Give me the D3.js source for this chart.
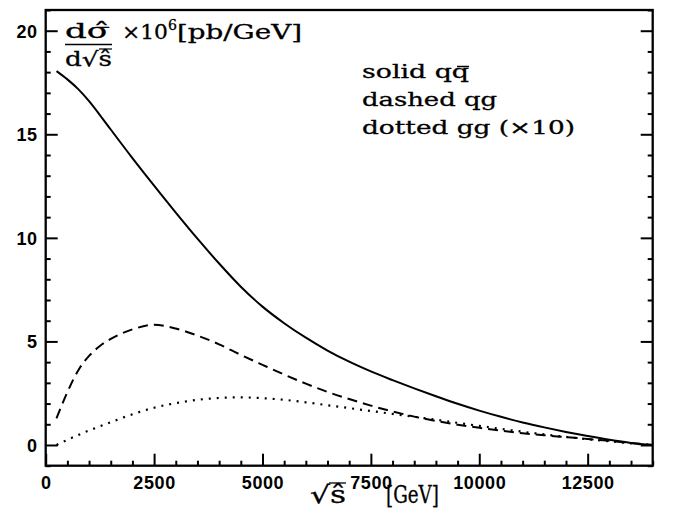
<!DOCTYPE html>
<html>
<head>
<meta charset="utf-8">
<script src="https://cdn.jsdelivr.net/npm/d3@7/dist/d3.min.js"></script>
<style>
  html, body { margin: 0; padding: 0; background: #fff; }
  svg { display: block; }
  .tick text { font-family: "Liberation Sans", Arial, sans-serif; font-weight: bold; font-size: 18px; letter-spacing: 0.6px; fill: #000; }
  .serif { font-family: "DejaVu Serif", "Liberation Serif", serif; fill: #000; stroke: #000; stroke-width: 0.3px; }
</style>
</head>
<body>
<svg id="chart" width="673" height="521"></svg>
<script>
// ---- data ----
const sqrtS = [250, 500, 750, 1000, 1250, 1500, 2000, 2500, 3000, 3500, 4000, 4500, 5000, 5500, 6000, 6500, 7000, 7500, 8000, 8500, 9000, 9500, 10000, 10500, 11000, 11500, 12000, 12500, 13000, 13500, 14000];
const qqbar = [18.05, 17.65, 17.18, 16.6, 15.93, 15.23, 13.85, 12.52, 11.22, 9.96, 8.76, 7.64, 6.68, 5.88, 5.18, 4.56, 4.02, 3.55, 3.13, 2.73, 2.35, 1.99, 1.66, 1.36, 1.09, 0.85, 0.63, 0.43, 0.25, 0.1, 0.0];
const qg    = [1.29, 2.55, 3.6, 4.3, 4.78, 5.12, 5.58, 5.8, 5.62, 5.28, 4.86, 4.35, 3.87, 3.4, 2.96, 2.56, 2.22, 1.9, 1.62, 1.37, 1.16, 0.98, 0.83, 0.69, 0.57, 0.47, 0.38, 0.29, 0.2, 0.1, 0.0];
const gg10  = [0.0, 0.25, 0.48, 0.7, 0.9, 1.1, 1.48, 1.8, 2.02, 2.18, 2.27, 2.3, 2.26, 2.18, 2.06, 1.92, 1.78, 1.64, 1.5, 1.36, 1.22, 1.07, 0.92, 0.78, 0.64, 0.51, 0.39, 0.28, 0.18, 0.08, 0.0];
const xMajor = [0, 2500, 5000, 7500, 10000, 12500];
const yMajor = [0, 5, 10, 15, 20];
const legendLines = ["solid qq", "dashed qg", "dotted gg (\u00d710)"];

// ---- layout ----
const svg = d3.select("#chart");
const L = 45.7, R = 652.7, T = 10, B = 465.7;
const x = d3.scaleLinear().domain([0, 14000]).range([L, R]);
const y = d3.scaleLinear().domain([-1, 21]).range([B, T]);

const xMinor = d3.range(0, 14001, 500).filter(v => v % 2500 !== 0);
const yMinor = d3.range(-1, 21.01, 1).filter(v => v % 5 !== 0);

function styleAxis(g) {
  g.select(".domain").remove();
  g.selectAll(".tick line").attr("stroke", "#000").attr("stroke-width", 2);
}

// bottom major
svg.append("g").attr("transform", `translate(0,${B})`)
  .call(d3.axisBottom(x).tickValues(xMajor).tickSize(-12).tickPadding(10.5).tickFormat(d3.format("d")))
  .call(styleAxis);
// bottom minor
svg.append("g").attr("transform", `translate(0,${B})`)
  .call(d3.axisBottom(x).tickValues(xMinor).tickSize(-5).tickFormat(""))
  .call(styleAxis);
// left major
svg.append("g").attr("transform", `translate(${L},0)`)
  .call(d3.axisLeft(y).tickValues(yMajor).tickSize(-12).tickPadding(8).tickFormat(d3.format("d")))
  .call(styleAxis)
  .selectAll("text").attr("dy", "0.36em");
// left minor
svg.append("g").attr("transform", `translate(${L},0)`)
  .call(d3.axisLeft(y).tickValues(yMinor).tickSize(-5).tickFormat(""))
  .call(styleAxis);
// right major / minor
svg.append("g").attr("transform", `translate(${R},0)`)
  .call(d3.axisRight(y).tickValues(yMajor).tickSize(-12).tickFormat(""))
  .call(styleAxis);
svg.append("g").attr("transform", `translate(${R},0)`)
  .call(d3.axisRight(y).tickValues(yMinor).tickSize(-5).tickFormat(""))
  .call(styleAxis);

// frame
svg.append("rect").attr("x", L).attr("y", T).attr("width", R - L).attr("height", B - T)
  .attr("fill", "none").attr("stroke", "#000").attr("stroke-width", 2.3);

// curves
const line = d3.line().x(d => x(d[0])).y(d => y(d[1])).curve(d3.curveMonotoneX);
function draw(vals, dash, width, cap) {
  svg.append("path")
    .datum(sqrtS.map((s, i) => [s, vals[i]]))
    .attr("d", line)
    .attr("fill", "none")
    .attr("stroke", "#000")
    .attr("stroke-width", width)
    .attr("stroke-dasharray", dash)
    .attr("stroke-linecap", cap);
}
draw(qqbar, null, 2, "butt");
draw(qg, "10,6", 2, "butt");
draw(gg10, "2,6", 2.2, "butt");

// ---- legend text ----
const legY = [78, 106, 134];
const legW = [107, 135, 213];
legendLines.forEach((t, i) => {
  svg.append("text").attr("class", "serif")
    .attr("x", 362).attr("y", legY[i]).attr("font-size", 18)
    .attr("textLength", legW[i]).attr("lengthAdjust", "spacingAndGlyphs")
    .text(t);
});
// bar over the second q (q-bar)
svg.append("line").attr("x1", 457).attr("x2", 469).attr("y1", 66.5).attr("y2", 66.5)
  .attr("stroke", "#000").attr("stroke-width", 1.5);

// ---- y-axis label (top left) ----
svg.append("text").attr("class", "serif").attr("x", 65).attr("y", 38).attr("font-size", 20)
  .attr("textLength", 45).attr("lengthAdjust", "spacingAndGlyphs").text("d\u03c3\u0302");
svg.append("line").attr("x1", 65).attr("x2", 112).attr("y1", 44.5).attr("y2", 44.5)
  .attr("stroke", "#000").attr("stroke-width", 1.4);
svg.append("text").attr("class", "serif").attr("x", 65).attr("y", 66).attr("font-size", 20)
  .attr("textLength", 47).attr("lengthAdjust", "spacingAndGlyphs").text("d\u221a\u015d");
svg.append("line").attr("x1", 99).attr("x2", 112).attr("y1", 49).attr("y2", 49)
  .attr("stroke", "#000").attr("stroke-width", 1.2);
svg.append("text").attr("class", "serif").attr("x", 122).attr("y", 39).attr("font-size", 20)
  .attr("textLength", 46).attr("lengthAdjust", "spacingAndGlyphs").text("\u00d710");
svg.append("text").attr("class", "serif").attr("x", 168).attr("y", 30).attr("font-size", 14)
  .attr("textLength", 9).attr("lengthAdjust", "spacingAndGlyphs").text("6");
svg.append("text").attr("class", "serif").attr("x", 177).attr("y", 39).attr("font-size", 20)
  .attr("textLength", 125).attr("lengthAdjust", "spacingAndGlyphs").text("[pb/GeV]");

// ---- x-axis title ----
svg.append("text").attr("class", "serif").attr("x", 310).attr("y", 503).attr("font-size", 24)
  .attr("textLength", 36).attr("lengthAdjust", "spacingAndGlyphs").text("\u221a\u015d");
svg.append("line").attr("x1", 329).attr("x2", 346).attr("y1", 483).attr("y2", 483)
  .attr("stroke", "#000").attr("stroke-width", 1.3);
svg.append("text").attr("class", "serif").attr("x", 386).attr("y", 503).attr("font-size", 24)
  .attr("textLength", 53).attr("lengthAdjust", "spacingAndGlyphs").text("[GeV]");
</script>
</body>
</html>
